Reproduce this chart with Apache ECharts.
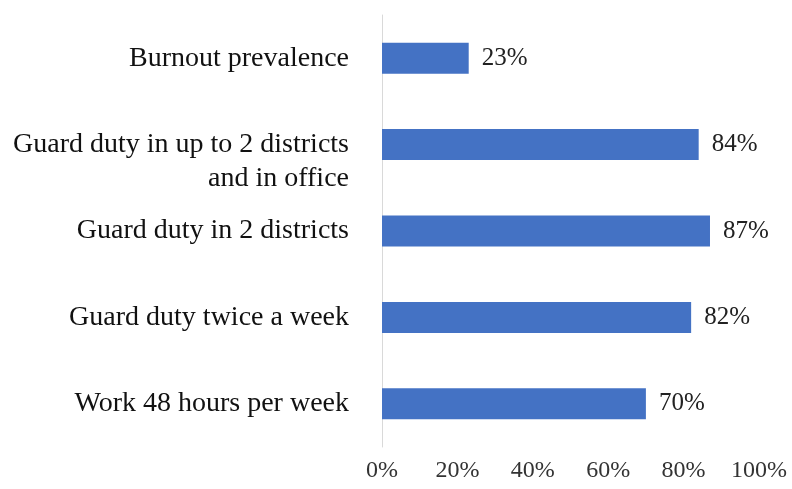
<!DOCTYPE html>
<html>
<head>
<meta charset="utf-8">
<style>
  html, body { margin: 0; padding: 0; background: #fff; }
  #chart { width: 792px; height: 489px; }
</style>
<script src="https://cdn.jsdelivr.net/npm/echarts@6/dist/echarts.min.js"></script>
</head>
<body>
<div id="chart"></div>
<script>
const categories = [
  'Burnout prevalence',
  'Guard duty in up to 2 districts\nand in office',
  'Guard duty in 2 districts',
  'Guard duty twice a week',
  'Work 48 hours per week'
]
const values = [23, 84, 87, 82, 70]
const tickValues = [0, 20, 40, 60, 80, 100]

const font = 'Liberation Serif'

const myChart = echarts.init(document.getElementById('chart'))
myChart.setOption({
  animation: false,
  textStyle: { fontFamily: font },
  grid: { left: 382, right: 33, top: 15, bottom: 42 },
  xAxis: {
    type: 'value',
    min: tickValues[0],
    max: tickValues[tickValues.length - 1],
    interval: tickValues[1] - tickValues[0],
    axisLine: { show: false },
    axisTick: { show: false },
    splitLine: { show: false },
    axisLabel: {
      formatter: '{value}%',
      fontFamily: font,
      fontSize: 24,
      color: '#333',
      margin: 12
    }
  },
  yAxis: {
    type: 'category',
    inverse: true,
    data: categories,
    axisTick: { show: false },
    axisLine: { show: true, lineStyle: { color: '#d9d9d9', width: 1 } },
    axisLabel: {
      fontFamily: font,
      fontSize: 28,
      lineHeight: 34,
      color: '#111',
      margin: 33,
      align: 'right',
      // first line level with the bar, second line hangs below it
      formatter(val) {
        if (val.indexOf('\n') < 0) return val
        return ' \n' + val
      }
    }
  },
  series: [{
    type: 'bar',
    data: values,
    barWidth: 31,
    itemStyle: { color: '#4472c4' },
    label: {
      show: true,
      position: 'right',
      distance: 13,
      formatter: '{c}%',
      fontFamily: font,
      fontSize: 25,
      color: '#222'
    }
  }]
})
</script>
</body>
</html>
